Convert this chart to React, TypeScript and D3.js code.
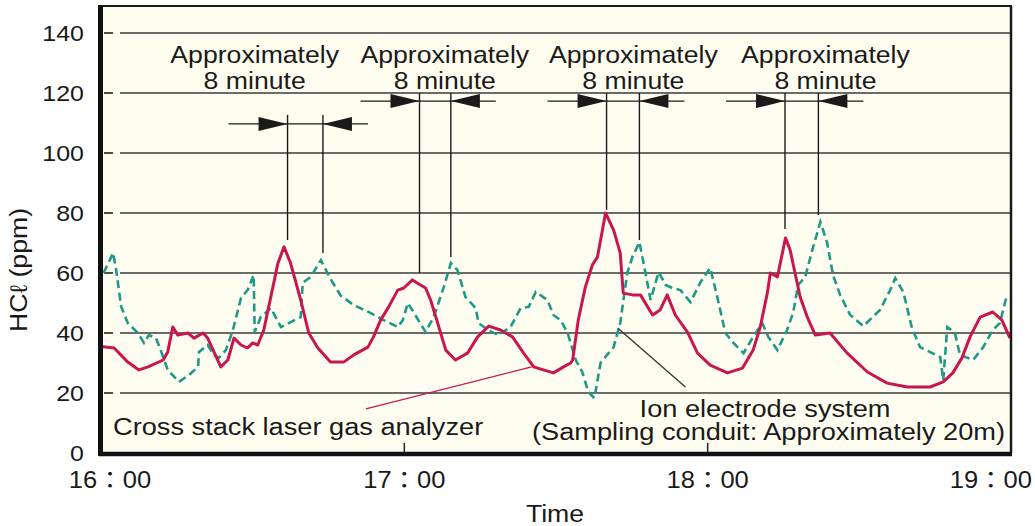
import React from "react";
import * as d3 from "d3";

// minutes after 16:00 and HCl concentration (ppm)
const laserMinutes = [
    0, 2.6, 5.3, 7.5, 9.3, 12.3, 13.2, 14.2, 15.2, 17.2, 18.4, 20.2, 21.1, 23.7, 25.1, 26.3, 27.7, 29.0, 30.0, 31.0,
    32.2, 34.0, 35.0, 36.2, 37.5, 39.5, 41.1, 42.9, 45.4, 48.0, 50.0, 52.8, 53.9, 55.3, 56.9, 58.7, 59.9, 61.6, 63.2, 64.2,
    65.2, 66.6, 68.2, 70.1, 72.5, 74.5, 76.7, 79.0, 81.4, 83.6, 85.6, 87.5, 89.5, 91.5, 92.9, 93.3, 94.4, 95.8, 97.2, 98.2,
    99.8, 101.4, 102.7, 103.3, 105.1, 106.7, 109.1, 110.6, 112.0, 113.6, 116.0, 118.0, 120.5, 123.9, 126.9, 129.0, 130.4, 131.8, 132.4, 133.8,
    135.4, 136.3, 138.3, 139.7, 141.3, 144.2, 147.6, 151.6, 155.5, 159.5, 164.0, 166.6, 168.5, 170.3, 171.9, 173.9, 176.4, 178.2, 179.8,
];
const laserValues = [
    35.5, 35, 30.3, 27.7, 28.7, 31, 33.7, 42, 39.3, 40, 38.3, 40, 38.3, 28.7, 31, 38.3, 36, 35, 36.7, 36,
    41, 55.3, 63.3, 68.7, 63.3, 51, 40, 35, 30.3, 30.3, 32.7, 35.3, 38.7, 44.3, 48.7, 54.3, 55, 57.7, 56, 55,
    51, 43.3, 34.3, 31, 33.3, 38.7, 42.3, 41, 38.7, 33.3, 28.7, 27.7, 26.7, 28.7, 30, 31, 44.3, 55.3, 62.7, 65.3,
    80, 74.3, 66.7, 53.3, 52.7, 52.7, 46, 47.7, 52.7, 46, 40.3, 33.3, 29.3, 26.7, 28.3, 34.3, 42, 53.3, 60, 58.7,
    71.7, 67.7, 52, 45.3, 39.3, 40, 33.3, 27, 23.3, 22, 22, 23.7, 26.7, 31.7, 38.7, 45.3, 47, 44.3, 38.3,
];

const ionMinutes = [
    0.5, 2.4, 3.0, 4.0, 5.3, 7.3, 8.5, 9.5, 10.9, 12.3, 13.2, 15.4, 17.4, 19.2, 19.4, 21.1, 22.3, 23.3, 24.7, 26.1,
    27.7, 29.0, 30.2, 30.4, 31.6, 33.6, 35.6, 39.5, 39.9, 41.5, 43.5, 45.4, 47.4, 50.0, 53.3, 55.9, 58.7, 59.7, 60.7, 61.8,
    64.2, 65.8, 67.8, 69.2, 70.5, 72.1, 74.1, 74.7, 76.5, 78.6, 81.0, 83.0, 84.6, 86.0, 88.3, 89.5, 90.9, 92.3, 93.9, 95.2,
    96.4, 97.6, 98.8, 100.4, 101.4, 102.7, 104.1, 105.1, 106.5, 107.7, 108.7, 110.3, 111.7, 113.0, 114.6, 116.6, 118.6, 120.5, 121.9, 123.5,
    125.1, 127.1, 129.0, 130.8, 132.0, 133.8, 135.7, 136.9, 137.9, 139.3, 140.7, 142.3, 143.6, 144.8, 146.2, 148.2, 150.8, 154.1, 156.1, 157.1,
    158.7, 160.4, 162.0, 166.0, 166.6, 167.4, 168.9, 169.9, 172.5, 174.5, 176.4, 177.8, 179.2,
];
const ionValues = [
    60, 66.7, 61, 48.7, 43.3, 40, 36.7, 39.3, 38.3, 32, 27.7, 23.7, 26, 28.7, 33.7, 36, 32.7, 31.7, 34.3, 41,
    51.7, 54.3, 59.3, 40.3, 45.3, 48.3, 42, 45.3, 56.7, 58.7, 64.3, 58, 52.5, 49.3, 46.7, 44.3, 42, 44.3, 50, 47,
    40.3, 45.3, 55.3, 63.3, 61, 52, 48.3, 43.3, 41, 39.3, 42, 48.3, 48.7, 53.7, 51, 46, 44.3, 40, 31, 27,
    20.3, 18.3, 30, 33.3, 35.3, 43.3, 60, 65.3, 70.3, 60, 51, 60.3, 56, 55, 54.3, 50.3, 57, 61.7, 52, 40,
    36.7, 33.3, 38.7, 43.3, 38.7, 34.3, 41, 46.7, 56, 58.7, 67.7, 77, 70.3, 59.3, 52.7, 46, 42.3, 47.7, 54.3, 58.3,
    53.7, 41.7, 35.3, 32, 24.3, 42, 40, 32.7, 31, 35.3, 41, 43.3, 52.7,
];

const yTicks = [0, 20, 40, 60, 80, 100, 120, 140];
const xTickMinutes = [0, 60, 120, 180];
const xTickLabels = ["16：00", "17：00", "18：00", "19：00"];

// "Approximately 8 minute" delay markers
const markerLeft = [36.9, 63.0, 100.0, 135.3];
const markerRight = [43.9, 69.2, 106.5, 141.9];
const markerLeftEnd = [71, 60, 81, 74.7];
const markerRightEnd = [66.7, 65.3, 71, 79.3];
const markerTop = [112.7, 120, 120, 120];
const markerArrow = [109.7, 117.3, 117.3, 117.3];
const markerLabelAt = [30.4, 68.0, 105.3, 143.3];
const markerLines = ["Approximately", "8 minute"];

const laserPointer = [[52.4, 14.7], [85.2, 28.7]];
const ionPointer = [[102.2, 41.7], [115.6, 22]];

const W = 1035;
const H = 526;
const plot = { left: 101, right: 1011, top: 6, bottom: 453 };
const RED = "#c8174e";
const TEAL = "#1d998a";
const BG = "#fffdef";
const FONT = "'Liberation Sans', Arial, Helvetica, 'Noto Sans CJK JP', sans-serif";
const SX = 1.11;

function Txt({ x, y, size, anchor = "start", children, rotate = 0 }: any) {
    return (
        <text
            transform={`translate(${x},${y}) rotate(${rotate}) scale(${SX},1)`}
            fontSize={size}
            textAnchor={anchor}
            fontFamily={FONT}
            fill="#1a1a1a"
        >
            {children}
        </text>
    );
}

export default function App() {
    const x = d3.scaleLinear().domain([0, 180]).range([plot.left, plot.right]);
    const y = d3.scaleLinear().domain([0, 140]).range([plot.bottom, 33]);

    const line = d3.line<[number, number]>().x(d => x(d[0])).y(d => y(d[1]));
    const laser = laserMinutes.map((m, i) => [m, laserValues[i]] as [number, number]);
    const ion = ionMinutes.map((m, i) => [m, ionValues[i]] as [number, number]);

    return (
        <svg width={W} height={H} style={{ position: "absolute", left: 0, top: 0, background: "#fff" }}>
            <rect x={plot.left} y={plot.top} width={plot.right - plot.left} height={plot.bottom - plot.top} fill={BG} />

            {/* grid + y ticks */}
            {yTicks.filter(t => t > 0).map(t => (
                <g key={t}>
                    <line x1={104} x2={113} y1={y(t)} y2={y(t)} stroke="#222" strokeWidth={1.6} />
                    <line x1={120} x2={plot.right} y1={y(t)} y2={y(t)} stroke="#3a3a3a" strokeWidth={1.4} />
                </g>
            ))}
            {yTicks.map(t => (
                <Txt key={t} x={84} y={y(t) + 8} size={22.5} anchor="end">{t}</Txt>
            ))}

            {/* x ticks */}
            {xTickMinutes.slice(1, 3).map(m => (
                <line key={m} x1={x(m)} x2={x(m)} y1={plot.bottom - 10} y2={plot.bottom} stroke="#222" strokeWidth={1.5} />
            ))}
            {xTickMinutes.map((m, i) => {
                const last = i === xTickMinutes.length - 1;
                return (
                    <Txt key={m} x={i === 0 ? x(m) + 9 : last ? W - 3 : x(m)} y={488} size={23} anchor={last ? "end" : "middle"}>
                        {xTickLabels[i]}
                    </Txt>
                );
            })}

            {/* delay markers */}
            {markerLeft.map((l, i) => {
                const xl = x(l);
                const xr = x(markerRight[i]);
                const ya = y(markerArrow[i]);
                return (
                    <g key={i} stroke="#1a1a1a" strokeWidth={1.4}>
                        <line x1={xl} x2={xl} y1={y(markerTop[i])} y2={y(markerLeftEnd[i])} />
                        <line x1={xr} x2={xr} y1={y(markerTop[i])} y2={y(markerRightEnd[i])} />
                        <line x1={xl - 59} x2={xr + 45} y1={ya} y2={ya} />
                        <polygon points={`${xl},${ya} ${xl - 29},${ya - 7} ${xl - 29},${ya + 7}`} fill="#1a1a1a" stroke="none" />
                        <polygon points={`${xr},${ya} ${xr + 29},${ya - 7} ${xr + 29},${ya + 7}`} fill="#1a1a1a" stroke="none" />
                    </g>
                );
            })}
            {markerLabelAt.map((m, i) => (
                <g key={i}>
                    <Txt x={x(m)} y={63} size={24} anchor="middle">{markerLines[0]}</Txt>
                    <Txt x={x(m)} y={89} size={24} anchor="middle">{markerLines[1]}</Txt>
                </g>
            ))}

            {/* series */}
            <path d={line(ion) || ""} fill="none" stroke={TEAL} strokeWidth={2.6} strokeDasharray="8,4.5" />
            <path d={line(laser) || ""} fill="none" stroke={RED} strokeWidth={3} strokeLinejoin="round" />

            {/* callouts */}
            <line x1={x(laserPointer[0][0])} y1={y(laserPointer[0][1])} x2={x(laserPointer[1][0])} y2={y(laserPointer[1][1])} stroke={RED} strokeWidth={1.3} />
            <line x1={x(ionPointer[0][0])} y1={y(ionPointer[0][1])} x2={x(ionPointer[1][0])} y2={y(ionPointer[1][1])} stroke="#333" strokeWidth={1.3} />
            <Txt x={113} y={435} size={24.5}>Cross stack laser gas analyzer</Txt>
            <Txt x={765} y={417} size={24.5} anchor="middle">Ion electrode system</Txt>
            <Txt x={1005} y={440} size={24.5} anchor="end">(Sampling conduit: Approximately 20m)</Txt>

            {/* frame */}
            <line x1={plot.left - 2} x2={plot.right + 1} y1={plot.top} y2={plot.top} stroke="#1a1a1a" strokeWidth={2} />
            <line x1={plot.right} x2={plot.right} y1={plot.top} y2={plot.bottom} stroke="#1a1a1a" strokeWidth={2.5} />
            <line x1={plot.left - 2} x2={plot.right + 1} y1={plot.bottom + 1} y2={plot.bottom + 1} stroke="#111" strokeWidth={4.5} />
            <line x1={plot.left - 0.5} x2={plot.left - 0.5} y1={plot.top - 1} y2={plot.bottom + 3} stroke="#111" strokeWidth={5} />

            {/* axis titles */}
            <Txt x={27} y={270} size={24} anchor="middle" rotate={-90}>HCℓ (ppm)</Txt>
            <Txt x={555} y={522} size={24} anchor="middle">Time</Txt>
        </svg>
    );
}
